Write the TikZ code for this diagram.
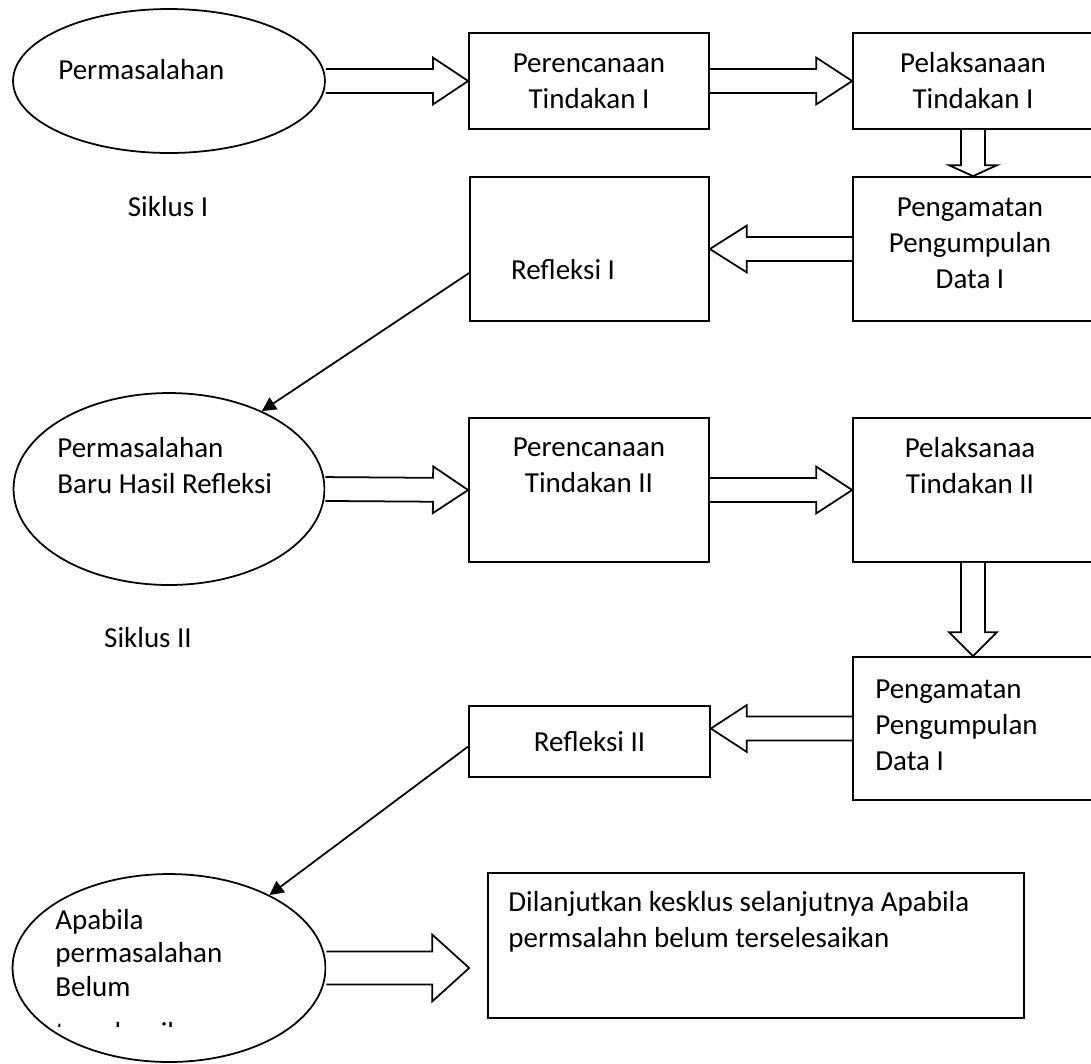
\documentclass[tikz,border=0pt]{standalone}
\usepackage{fontspec}
\setmainfont{Carlito}
\usetikzlibrary{shapes.geometric, arrows.meta, calc}

\tikzset{
  box/.style={draw, line width=1pt, rectangle, inner sep=0pt, align=center},
  oval/.style={draw, line width=1pt, ellipse, inner sep=0pt},
  label/.style={inner sep=0pt, align=left},
  hollow/.style={draw, line width=1pt, fill=white},
  link/.style={line width=1pt, -{Triangle[length=8pt,width=8pt]}}
}
% hollow block arrow: from, to, shaft half width, head half width, head length
\newcommand{\blockarrow}[5]{%
  \draw[hollow] let \p1=(#1), \p2=(#2),
      \n1={atan2(\y2-\y1,\x2-\x1)}, \n2={veclen(\x2-\x1,\y2-\y1)} in
    [shift={(\p1)}, rotate=\n1]
    (0pt,#3) -- ({\n2*1pt-#5},#3) -- ({\n2*1pt-#5},#4) -- ({\n2*1pt},0pt)
    -- ({\n2*1pt-#5},-#4) -- ({\n2*1pt-#5},-#3) -- (0pt,-#3);}

\begin{document}
\begin{tikzpicture}[x=0.02cm, y=-0.02cm, font=\fontsize{16.5pt}{20.5pt}\selectfont]
    \useasboundingbox (0, 0) rectangle (1091, 1063);

    % siklus I
    \node (e1) [oval, minimum width=6.24cm, minimum height=2.88cm] at (169, 81) {};
    \node (t1) [label, anchor=west] at (58, 70) {Permasalahan};
    \node (p1) [box, minimum width=4.80cm, minimum height=1.92cm] at (589, 81) {Perencanaan\\Tindakan I};
    \node (l1) [box, minimum width=4.80cm, minimum height=1.92cm] at (973, 81) {Pelaksanaan\\Tindakan I};
    \node (o1) [box, minimum width=4.80cm, minimum height=2.88cm] at (973, 249) {};
    \node (o1t) [label, align=center] at (970, 243) {Pengamatan\\Pengumpulan\\Data I};
    \node (r1) [box, minimum width=4.78cm, minimum height=2.88cm] at (589.5, 249) {};
    \node (r1t) [label] at (563, 270) {Refleksi I};
    \node (s1) [label] at (168, 207) {Siklus I};

    \blockarrow{e1.east}{p1.west}{6.8pt}{13.3pt}{20pt}
    \blockarrow{p1.east}{l1.west}{6.8pt}{13.3pt}{20.4pt}
    \blockarrow{o1.north |- l1.south}{o1.north}{6.8pt}{13.6pt}{6.2pt}
    \blockarrow{o1.west}{r1.east}{6.8pt}{13.3pt}{21pt}

    % siklus II
    \node (e2) [oval, minimum width=6.22cm, minimum height=3.84cm] at (169, 489) {};
    \node (t2) [label, anchor=west] at (57, 466) {Permasalahan\\Baru Hasil Refleksi};
    \node (p2) [box, minimum width=4.80cm, minimum height=2.88cm] at (589, 490) {};
    \node (p2t) [label, align=center] at (589, 465) {Perencanaan\\Tindakan II};
    \node (l2) [box, minimum width=4.80cm, minimum height=2.88cm] at (973, 490) {};
    \node (l2t) [label, align=center] at (970, 466) {Pelaksanaa\\Tindakan II};
    \node (o2) [box, minimum width=4.80cm, minimum height=2.86cm] at (973, 728.5) {};
    \node (o2t) [label, anchor=west] at (875, 725) {Pengamatan\\Pengumpulan\\Data I};
    \node (r2) [box, minimum width=4.82cm, minimum height=1.42cm] at (589.5, 741.5) {Refleksi II};
    \node (s2) [label] at (148, 638) {Siklus II};

    \draw[link] ([yshift=-0.48cm]r1.west) -- (e2.40);
    \blockarrow{e2.east}{p2.west}{6.8pt}{13.3pt}{20pt}
    \blockarrow{p2.east}{l2.west}{6.8pt}{13.3pt}{20.4pt}
    \blockarrow{o2.north |- l2.south}{o2.north}{6.8pt}{13.6pt}{13.6pt}
    \blockarrow{o2.west}{o2.west -| r2.east}{6.8pt}{13.3pt}{20.4pt}

    % lanjutan
    \node (e3) [oval, minimum width=6.26cm, minimum height=3.76cm] at (169, 968) {};
    \node (t3) [label, anchor=west, font=\fontsize{16.5pt}{19pt}\selectfont] at (55, 953) {Apabila\\permasalahan\\Belum};
    \begin{scope}
      \clip (0, 1021) rectangle (330, 1026);
      \node (t3cut) [label, anchor=base west] at (55, 1042) {terselesaikan};
    \end{scope}
    \node (d) [box, minimum width=10.72cm, minimum height=2.90cm] at (756, 945.5) {};
    \node (dt) [label, anchor=west] at (508, 922) {Dilanjutkan kesklus selanjutnya Apabila\\permsalahn belum terselesaikan};

    \draw[link] ([yshift=-0.1cm]r2.west) -- (e3.36);
    \blockarrow{e3.east}{[xshift=-0.36cm]e3.east -| d.west}{9.4pt}{19pt}{21pt}
\end{tikzpicture}
\end{document}
